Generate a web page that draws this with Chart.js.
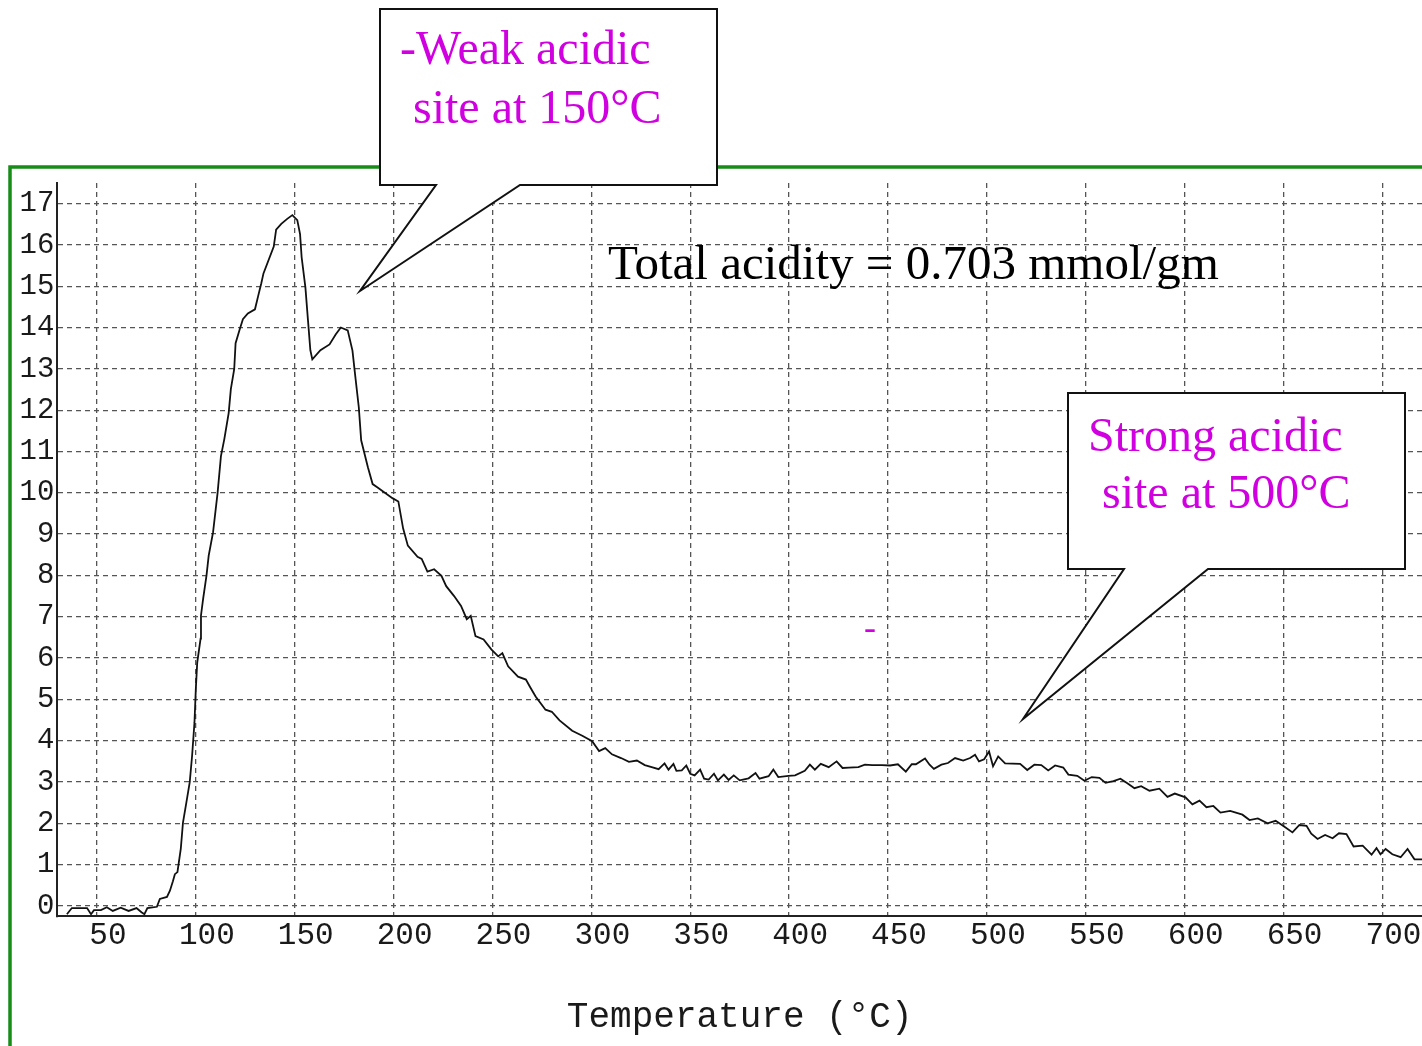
<!DOCTYPE html>
<html>
<head>
<meta charset="utf-8">
<title>NH3-TPD profile</title>
<script src="https://cdn.jsdelivr.net/npm/chart.js@4.4.0/dist/chart.umd.min.js"></script>
<style>
  html, body { margin: 0; padding: 0; background: #fff; }
  #wrap { position: relative; width: 1422px; height: 1046px; }
</style>
</head>
<body>
<div id="wrap"><canvas id="tpd" width="1422" height="1046"></canvas></div>
<script>
/* ---------- Data ---------- */
const temps = [
  34.8, 37.3, 45.0, 47.0, 48.5, 52.0, 55.0, 58.0, 62.0, 66.0, 70.0, 72.5, 74.0, 75.5,
  80.3, 81.8, 85.4, 86.9, 88.4, 89.4, 90.7, 92.4, 93.5, 95.2, 96.9, 98.1, 99.3, 100.0,
  100.7, 102.4, 102.6, 103.7, 105.4, 106.5, 108.7, 111.0, 112.7, 114.4, 116.6, 117.7,
  119.4, 120.1, 122.2, 123.8, 126.3, 129.9, 131.5, 133.1, 134.2, 139.4, 140.6, 143.2,
  146.2, 148.8, 151.3, 152.7, 153.5, 155.4, 156.7, 157.9, 158.9, 163.0, 167.6, 170.7,
  173.3, 176.8, 179.2, 180.5, 182.4, 183.6, 187.0, 189.4, 191.9, 199.4, 202.4, 204.8,
  207.2, 212.1, 214.2, 217.1, 220.5, 224.2, 226.6, 230.6, 234.1, 237.0, 239.0, 241.4,
  245.5, 249.4, 252.9, 255.0, 257.9, 262.9, 266.9, 269.0, 271.8, 276.8, 280.0, 283.9,
  290.3, 295.4, 300.4, 303.9, 307.0, 310.4, 315.0, 319.0, 323.0, 327.0, 330.5, 334.0,
  337.0, 339.0, 341.5, 343.0, 345.7, 348.0, 350.0, 352.2, 355.0, 357.0, 359.3, 362.0,
  364.0, 367.0, 369.4, 372.0, 375.0, 379.5, 383.0, 385.0, 389.6, 392.0, 394.5, 399.7,
  403.0, 407.9, 410.5, 413.0, 416.0, 420.0, 424.0, 427.0, 430.2, 435.0, 438.3, 442.0,
  446.9, 451.0, 455.0, 459.0, 462.0, 464.1, 468.7, 471.0, 473.2, 477.0, 480.3, 483.9,
  488.0, 491.5, 494.0, 496.0, 498.6, 501.1, 503.1, 505.7, 509.2, 516.8, 520.4, 524.0,
  527.5, 531.0, 534.5, 538.6, 541.2, 545.7, 549.3, 553.0, 556.9, 560.0, 564.0, 567.5,
  571.0, 574.6, 578.0, 582.2, 587.2, 591.3, 595.0, 600.4, 603.9, 607.5, 611.0, 614.5,
  618.1, 623.0, 629.2, 632.8, 637.0, 641.9, 646.0, 651.0, 654.5, 658.0, 661.6, 664.0,
  667.2, 671.0, 674.8, 678.0, 681.8, 685.4, 690.0, 694.5, 697.0, 699.0, 701.6, 705.0,
  709.2, 712.7, 716.2, 720.0
];
const signal = [
  -0.20, -0.05, -0.05, -0.20, -0.10, -0.10, -0.03, -0.12, -0.04, -0.12, -0.05, -0.15, -0.20, -0.05,
  -0.02, 0.17, 0.22, 0.37, 0.60, 0.77, 0.82, 1.39, 2.02, 2.50, 2.99, 3.63, 4.43, 5.26,
  5.89, 6.47, 7.03, 7.44, 8.00, 8.48, 9.04, 10.00, 10.89, 11.30, 11.93, 12.51,
  12.99, 13.62, 13.96, 14.20, 14.34, 14.44, 14.76, 15.07, 15.31, 15.96, 16.37, 16.51,
  16.63, 16.72, 16.60, 16.26, 15.70, 14.97, 14.18, 13.45, 13.23, 13.45, 13.59, 13.83,
  14.00, 13.93, 13.44, 12.87, 12.07, 11.27, 10.62, 10.21, 10.13, 9.87, 9.79, 9.14,
  8.72, 8.45, 8.40, 8.09, 8.15, 7.99, 7.74, 7.50, 7.26, 6.94, 7.02, 6.53,
  6.45, 6.21, 6.04, 6.12, 5.80, 5.55, 5.48, 5.30, 5.07, 4.75, 4.70, 4.49,
  4.24, 4.12, 3.99, 3.75, 3.82, 3.67, 3.58, 3.49, 3.52, 3.41, 3.36, 3.31,
  3.45, 3.30, 3.44, 3.27, 3.28, 3.40, 3.20, 3.16, 3.30, 3.08, 3.06, 3.20,
  3.04, 3.18, 3.05, 3.16, 3.04, 3.09, 3.22, 3.08, 3.14, 3.30, 3.12, 3.15,
  3.16, 3.27, 3.42, 3.30, 3.44, 3.36, 3.50, 3.34, 3.35, 3.36, 3.42, 3.41,
  3.41, 3.40, 3.43, 3.25, 3.43, 3.43, 3.57, 3.42, 3.32, 3.42, 3.46, 3.58,
  3.52, 3.58, 3.66, 3.50, 3.55, 3.74, 3.38, 3.62, 3.45, 3.44, 3.29, 3.42,
  3.41, 3.28, 3.40, 3.35, 3.18, 3.15, 3.03, 3.12, 3.10, 2.98, 3.02, 3.08,
  2.97, 2.85, 2.90, 2.79, 2.84, 2.64, 2.72, 2.63, 2.46, 2.55, 2.39, 2.42,
  2.26, 2.30, 2.21, 2.08, 2.12, 2.00, 2.06, 1.90, 1.78, 1.96, 1.94, 1.75,
  1.62, 1.72, 1.64, 1.76, 1.74, 1.44, 1.46, 1.24, 1.40, 1.25, 1.38, 1.25,
  1.18, 1.38, 1.13, 1.13
];
const xTicks = [50, 100, 150, 200, 250, 300, 350, 400, 450, 500, 550, 600, 650, 700];
const yTicks = [0, 1, 2, 3, 4, 5, 6, 7, 8, 9, 10, 11, 12, 13, 14, 15, 16, 17];
const xTitle = 'Temperature (°C)';
const totalText = 'Total acidity = 0.703 mmol/gm';
const weakLines = ['-Weak acidic', 'site at 150°C'];
const strongLines = ['Strong acidic', 'site at 500°C'];

/* ---------- Look ---------- */
const MONO = '"Liberation Mono", "DejaVu Sans Mono", monospace';
const SERIF = '"Liberation Serif", "DejaVu Serif", serif';
const INK = '#1a1a1a';
const MAGENTA = '#d000e0';
const GREEN = '#178c17';

function drawCallout(ctx, box, baseL, baseR, tip, lines, textPos) {
    const bottom = box.y + box.h;
    ctx.save();
    ctx.beginPath();
    ctx.moveTo(box.x, box.y);
    ctx.lineTo(box.x + box.w, box.y);
    ctx.lineTo(box.x + box.w, bottom);
    ctx.lineTo(baseR, bottom);
    ctx.lineTo(tip[0], tip[1]);
    ctx.lineTo(baseL, bottom);
    ctx.lineTo(box.x, bottom);
    ctx.closePath();
    ctx.fillStyle = '#fff';
    ctx.fill();
    ctx.lineWidth = 2;
    ctx.lineJoin = 'miter';
    ctx.strokeStyle = '#111';
    ctx.stroke();

    ctx.fillStyle = MAGENTA;
    ctx.font = '48px ' + SERIF;
    ctx.textBaseline = 'alphabetic';
    ctx.textAlign = 'left';
    lines.forEach((t, i) => ctx.fillText(t, textPos[i][0], textPos[i][1]));
    ctx.restore();
}

const paperPlugin = {
    id: 'paper',
    beforeDraw(chart) {
        const ctx = chart.ctx;
        ctx.save();
        ctx.fillStyle = '#fff';
        ctx.fillRect(0, 0, chart.width, chart.height);
        // green slide frame
        ctx.strokeStyle = GREEN;
        ctx.lineWidth = 3.5;
        ctx.beginPath();
        ctx.moveTo(10, chart.height);
        ctx.lineTo(10, 167);
        ctx.lineTo(chart.width, 167);
        ctx.stroke();
        ctx.restore();
    },
    afterDraw(chart) {
        const ctx = chart.ctx;
        ctx.save();
        ctx.fillStyle = '#000';
        ctx.font = '49px ' + SERIF;
        ctx.textBaseline = 'alphabetic';
        ctx.fillText(totalText, 608, 279);
        // stray magenta dash from the original slide
        ctx.fillStyle = MAGENTA;
        ctx.font = '36px ' + SERIF;
        ctx.fillText('-', 864, 639);
        ctx.restore();

        drawCallout(ctx, { x: 380, y: 9, w: 337, h: 176 }, 436, 520, [360, 291],
            weakLines, [[400, 64], [413, 123]]);
        drawCallout(ctx, { x: 1068, y: 393, w: 337, h: 176 }, 1124, 1208, [1023, 719],
            strongLines, [[1088, 451], [1102, 508]]);
    }
};

/* ---------- Chart ---------- */
const ctx = document.getElementById('tpd').getContext('2d');
new Chart(ctx, {
    type: 'line',
    data: {
        datasets: [{
            label: 'TCD signal',
            data: temps.map((t, i) => ({ x: t, y: signal[i] })),
            borderColor: '#111',
            borderWidth: 1.8,
            pointRadius: 0,
            tension: 0,
            fill: false
        }]
    },
    options: {
        responsive: false,
        maintainAspectRatio: false,
        animation: false,
        layout: { padding: { top: 182.9, left: 0, right: 0, bottom: 0 } },
        plugins: {
            legend: { display: false },
            tooltip: { enabled: false }
        },
        scales: {
            x: {
                type: 'linear',
                min: 30,
                max: 720,
                afterBuildTicks: s => { s.ticks = xTicks.map(v => ({ value: v })); },
                afterFit: s => { s.height = 129.7; },
                grid: { color: '#555', lineWidth: 1.3, drawTicks: false },
                border: { color: '#222', width: 2, dash: [5, 4] },
                ticks: {
                    font: { family: MONO, size: 31 },
                    color: INK,
                    padding: 1,
                    labelOffset: 11,
                    maxRotation: 0,
                    autoSkip: false
                },
                title: {
                    display: true,
                    text: xTitle,
                    font: { family: MONO, size: 36 },
                    color: INK,
                    padding: { top: 0, bottom: 7 }
                }
            },
            y: {
                type: 'linear',
                min: -0.25,
                max: 17.5,
                afterBuildTicks: s => { s.ticks = yTicks.map(v => ({ value: v })); },
                afterFit: s => { s.width = 57.4; },
                grid: { color: '#555', lineWidth: 1.3, drawTicks: false },
                border: { color: '#222', width: 2, dash: [5, 4] },
                ticks: {
                    font: { family: MONO, size: 29 },
                    color: INK,
                    padding: 3,
                    autoSkip: false
                }
            }
        }
    },
    plugins: [paperPlugin]
});
</script>
</body>
</html>
